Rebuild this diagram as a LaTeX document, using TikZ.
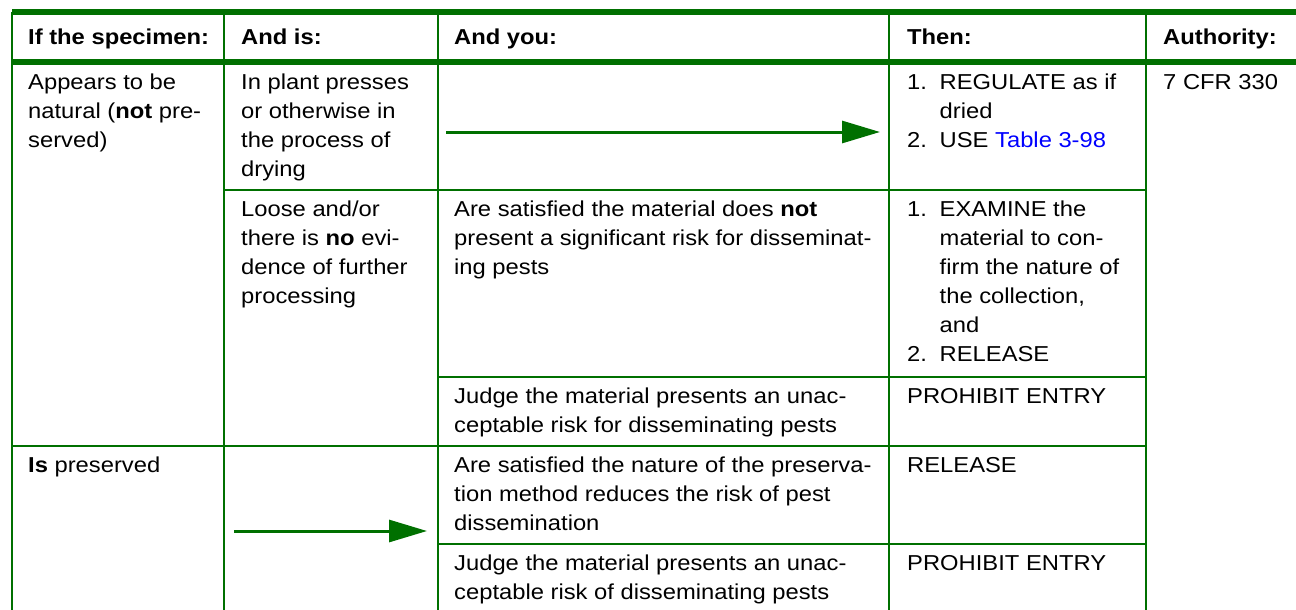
\documentclass[tikz,border=0pt]{standalone}
\usepackage{fontspec}
\setmainfont{Liberation Sans}[FakeStretch=1.1]
\usetikzlibrary{arrows.meta}
\definecolor{tgreen}{RGB}{0,112,0}
\definecolor{tblue}{RGB}{0,0,255}
\begin{document}
\begin{tikzpicture}[x=1pt,y=-1pt,
  grid/.style={draw=tgreen,line width=1.5pt},
  band/.style={draw=tgreen,line width=5.5pt},
  cell/.style={anchor=north west,inner sep=0pt,align=left,font=\fontsize{21.6}{29}\selectfont},
  head/.style={cell,font=\fontsize{21.6}{29}\selectfont\bfseries},
  flow/.style={draw=tgreen,line width=3pt,-{Triangle[length=38pt,width=22pt]}}]
\useasboundingbox[fill=white] (0,0) rectangle (1296,610);
% grid
\foreach \x in {12,224,438,889,1146} \draw[grid] (\x,12) -- (\x,610);
\draw[grid] (224,190) -- (1146,190);
\draw[grid] (438,377) -- (1146,377);
\draw[grid] (12,446) -- (1146,446);
\draw[grid] (438,544) -- (1146,544);
\draw[band] (12,12) -- (1296,12);
\draw[band] (12,62) -- (1296,62);
% header
\node[head] (h1) at (28,23.7) {\strut If the specimen:};
\node[head] (h2) at (241,23.7) {\strut And is:};
\node[head] (h3) at (454,23.7) {\strut And you:};
\node[head] (h4) at (907,23.7) {\strut Then:};
\node[head] (h5) at (1163,23.7) {\strut Authority:};
% row 1
\node[cell] (a1) at (28,68.7) {\strut Appears to be\\natural (\textbf{not} pre-\\served)};
\node[cell] (a2) at (241,68.7) {\strut In plant presses\\or otherwise in\\the process of\\drying};
\node[cell] (a4) at (907,68.7) {\strut\makebox[32.5pt][l]{1.}REGULATE as if\\\hspace*{32.5pt}dried\\\makebox[32.5pt][l]{2.}USE \textcolor{tblue}{Table 3-98}};
\node[cell] (a5) at (1163,68.7) {\strut 7 CFR 330};
\coordinate (s1) at (446,132);
\coordinate (e1) at (880,132);
\draw[flow] (s1) -- (e1);
% row 2
\node[cell] (b2) at (241,196) {\strut Loose and/or\\there is \textbf{no} evi-\\dence of further\\processing};
\node[cell] (b3) at (454,196) {\strut Are satisfied the material does \textbf{not}\\present a significant risk for disseminat-\\ing pests};
\node[cell] (b4) at (907,196) {\strut\makebox[32.5pt][l]{1.}EXAMINE the\\\hspace*{32.5pt}material to con-\\\hspace*{32.5pt}firm the nature of\\\hspace*{32.5pt}the collection,\\\hspace*{32.5pt}and\\\makebox[32.5pt][l]{2.}RELEASE};
\node[cell] (c3) at (454,382.7) {\strut Judge the material presents an unac-\\ceptable risk for disseminating pests};
\node[cell] (c4) at (907,382.7) {\strut PROHIBIT ENTRY};
% row 3
\node[cell] (d1) at (28,451.7) {\strut\textbf{Is} preserved};
\node[cell] (d3) at (454,451.7) {\strut Are satisfied the nature of the preserva-\\tion method reduces the risk of pest\\dissemination};
\node[cell] (d4) at (907,451.7) {\strut RELEASE};
\node[cell] (e3) at (454,549.7) {\strut Judge the material presents an unac-\\ceptable risk of disseminating pests};
\node[cell] (e4) at (907,549.7) {\strut PROHIBIT ENTRY};
\coordinate (s2) at (234,531);
\coordinate (e2) at (427,531);
\draw[flow] (s2) -- (e2);
\end{tikzpicture}
\end{document}
